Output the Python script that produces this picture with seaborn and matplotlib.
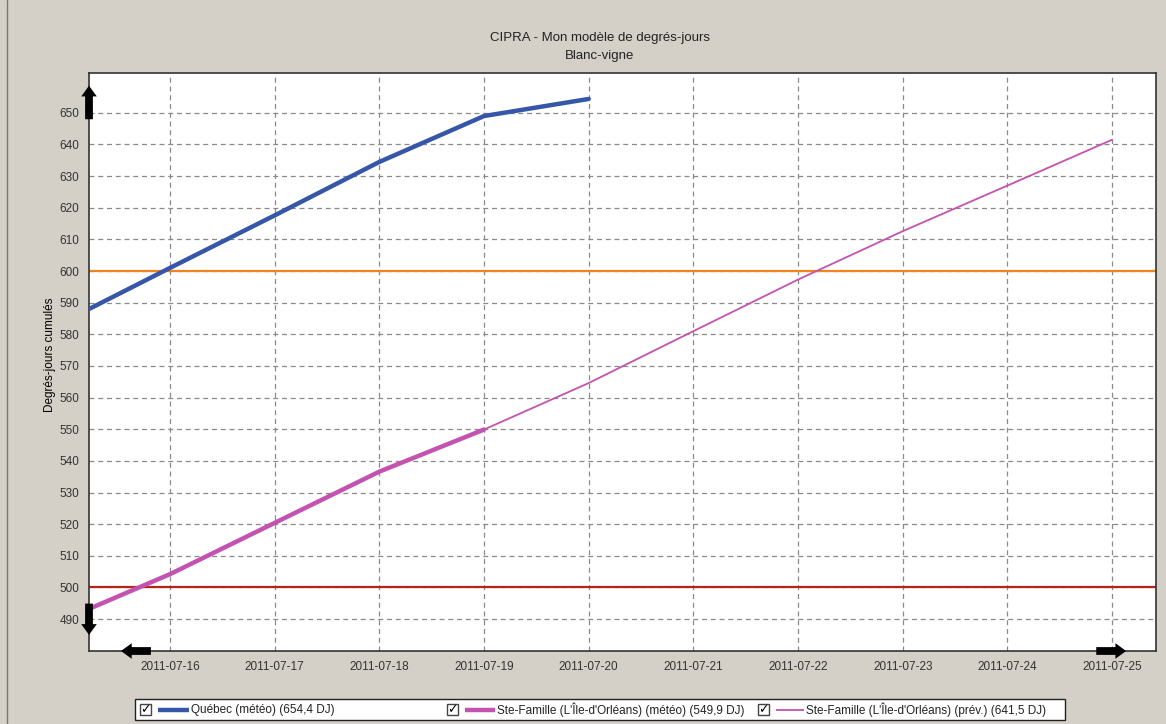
import matplotlib
matplotlib.use("Agg")
import matplotlib.pyplot as plt
import matplotlib.dates as mdates
from matplotlib.patches import Rectangle
from matplotlib.lines import Line2D
import seaborn as sns
import pandas as pd

# ---- data ----
quebec_dates = ["2011-07-15", "2011-07-16", "2011-07-17", "2011-07-18", "2011-07-19", "2011-07-20"]
quebec_vals = [584.2, 601.0, 617.6, 634.5, 649.0, 654.4]

stef_meteo_dates = ["2011-07-15", "2011-07-16", "2011-07-17", "2011-07-18", "2011-07-19"]
stef_meteo_vals = [490.0, 504.2, 520.4, 536.6, 549.9]

stef_prev_dates = ["2011-07-19", "2011-07-20", "2011-07-21", "2011-07-22", "2011-07-23", "2011-07-24", "2011-07-25"]
stef_prev_vals = [549.9, 564.6, 581.0, 597.3, 612.6, 627.0, 641.5]

thresholds = [600, 500]
threshold_colors = ["#f0841e", "#b0261a"]

legend_labels = ["Québec (météo) (654,4 DJ)",
                 "Ste-Famille (L'Île-d'Orléans) (météo) (549,9 DJ)",
                 "Ste-Famille (L'Île-d'Orléans) (prév.) (641,5 DJ)"]
series_colors = ["#3656aa", "#c452b0", "#c452b0"]
series_widths = [3.2, 3.2, 1.3]

title_lines = ["CIPRA - Mon modèle de degrés-jours", "Blanc-vigne"]
ylabel = "Degrés-jours cumulés"
yticks = list(range(490, 651, 10))
xticks = pd.date_range("2011-07-16", "2011-07-25", freq="D")

# ---- style ----
sns.set_style("white")
plt.rcParams["font.family"] = ["Liberation Sans", "DejaVu Sans"]

bg = "#d4d0c8"
fig = plt.figure(figsize=(11.66, 7.24), dpi=100, facecolor=bg)
ax = fig.add_axes([89 / 1166, 1 - 651 / 724, (1156 - 89) / 1166, (651 - 73) / 724])
ax.set_facecolor("white")

df_q = pd.DataFrame({"date": pd.to_datetime(quebec_dates), "val": quebec_vals})
df_m = pd.DataFrame({"date": pd.to_datetime(stef_meteo_dates), "val": stef_meteo_vals})
df_p = pd.DataFrame({"date": pd.to_datetime(stef_prev_dates), "val": stef_prev_vals})

for y, c in zip(thresholds, threshold_colors):
    ax.axhline(y, color=c, lw=1.6, zorder=2)

for df, c, w in zip([df_q, df_m, df_p], series_colors, series_widths):
    sns.lineplot(data=df, x="date", y="val", ax=ax, color=c, lw=w, zorder=3)

ax.set_xlim(pd.Timestamp("2011-07-15 05:25"), pd.Timestamp("2011-07-25 10:05"))
ax.set_ylim(479.9, 662.6)
ax.set_yticks(yticks)
ax.set_xticks(xticks)
ax.xaxis.set_major_formatter(mdates.DateFormatter("%Y-%m-%d"))
ax.set_xlabel("")
ax.set_ylabel(ylabel, fontsize=8.5, color="black")
ax.yaxis.set_label_coords(-0.031, 0.512)

ax.grid(True, color="#8a8a8a", linestyle=(0, (4, 3)), lw=0.9)
ax.set_axisbelow(True)
ax.tick_params(axis="both", which="major", labelsize=8.5, labelcolor="#333333",
               color="#666666", length=4, width=0.9, direction="out", pad=3)
ax.tick_params(axis="x", pad=3)
for s in ax.spines.values():
    s.set_color("#333333")
    s.set_linewidth(1.2)
    s.set_visible(True)

# scroll arrows
arrow_kw = dict(arrowstyle="simple,head_length=0.55,head_width=0.8,tail_width=0.4", lw=0, color="black",
                mutation_scale=14, shrinkA=0, shrinkB=0)
for head, tail in [((0.0, 0.978), (0.0, 0.920)), ((0.0, 0.028), (0.0, 0.082)),
                   ((0.030, 0.0), (0.058, 0.0)), ((0.972, 0.0), (0.944, 0.0))]:
    ax.annotate("", xy=head, xytext=tail, xycoords="axes fraction",
                arrowprops=arrow_kw, annotation_clip=False)

# titles
fig.text(600 / 1166, 1 - 38 / 724, title_lines[0], ha="center", va="center", fontsize=9.5, color="#222222")
fig.text(600 / 1166, 1 - 56 / 724, title_lines[1], ha="center", va="center", fontsize=9.5, color="#222222")

# left frame line
fig.add_artist(Line2D([6.5 / 1166, 6.5 / 1166], [0, 1], color="#777777", lw=1.0, transform=fig.transFigure))

# legend box (manual, windows-like with checkboxes)
W, H = 1166, 724
def fx(px):
    return px / W
def fy(py):
    return 1 - py / H

fig.add_artist(Rectangle((fx(135), fy(720)), fx(1065) - fx(135), fy(699) - fy(720),
                         transform=fig.transFigure, facecolor="white", edgecolor="#222222", lw=1.0))
entry_x = [140, 447, 758]
line_len = [31, 30, 28]
for x0, lab, c, w, ll in zip(entry_x, legend_labels, series_colors, series_widths, line_len):
    fig.add_artist(Rectangle((fx(x0), fy(715)), fx(11), fy(704) - fy(715), transform=fig.transFigure,
                             facecolor="white", edgecolor="#444444", lw=1.0))
    fig.text(fx(x0 + 5.5), fy(709.5), "\u2713", ha="center", va="center", fontsize=9,
             family=["DejaVu Sans"], fontweight="bold", color="black")
    fig.add_artist(Line2D([fx(x0 + 18), fx(x0 + 18 + ll)], [fy(709.5), fy(709.5)], color=c,
                          lw=w, transform=fig.transFigure, solid_capstyle="butt"))
    fig.text(fx(x0 + 18 + ll + 2), fy(709.5), lab, ha="left", va="center", fontsize=8.5, color="#222222")

fig.savefig("out.png", dpi=100, facecolor=bg)
